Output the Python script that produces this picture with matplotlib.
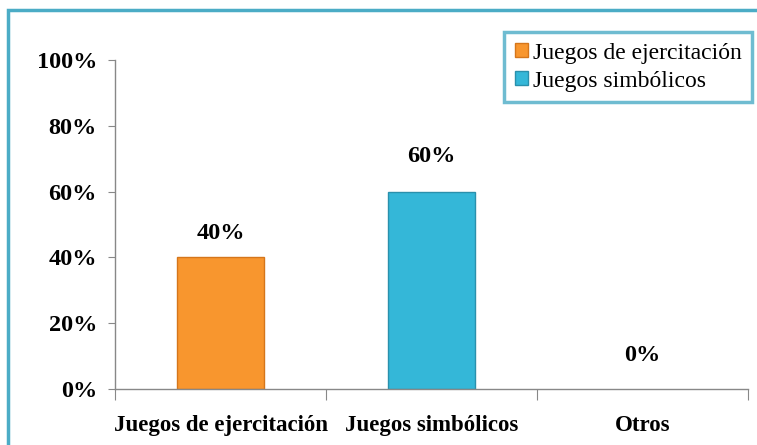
import matplotlib.pyplot as plt
from matplotlib.patches import Rectangle

# datos
categories = ["Juegos de ejercitación", "Juegos simbólicos", "Otros"]
values = [40, 60, 0]
legend_labels = ["Juegos de ejercitación", "Juegos simbólicos"]
y_ticks = [0, 20, 40, 60, 80, 100]

ORANGE = "#F8962E"
TEAL = "#34B7D8"
FRAME = "#4BACC6"

plt.rcParams["font.family"] = ["Liberation Serif", "DejaVu Serif"]

fig = plt.figure(figsize=(7.57, 4.45), dpi=100)
fig.patch.set_facecolor("white")

# marco exterior
fig.patches.append(
    Rectangle((8 / 757, -0.05), 1.1, 1 - 10 / 445 + 0.05,
              transform=fig.transFigure, fill=False,
              edgecolor=FRAME, linewidth=2.5)
)

ax = fig.add_axes([115 / 757, 1 - 389 / 445, (748 - 115) / 757, (389 - 60) / 445])

x = range(len(categories))
colors = [ORANGE, TEAL, TEAL]
edges = ["#D5761B", "#2A90AC", "none"]
widths = [1 if v > 0 else 0 for v in values]
bars = ax.bar(x, values, width=0.41, color=colors, edgecolor=edges, linewidth=widths)

offsets = [4.0, 7.5, 7.0]
for i, v in enumerate(values):
    ax.text(i, v + offsets[i], f"{v}%", ha="center", va="bottom",
            fontsize=17.5, fontweight="bold")

ax.set_xlim(-0.5, 2.5)
ax.set_ylim(0, 100)
ax.set_yticks(y_ticks)
ax.set_yticklabels([f"{t}%" for t in y_ticks], fontsize=17.5, fontweight="bold")
ax.set_xticks([-0.5, 0.5, 1.5, 2.5])
ax.set_xticklabels([])
ax.set_xticks(list(x), minor=True)
ax.set_xticklabels(categories, minor=True, fontsize=16.5, fontweight="bold")
ax.tick_params(axis="x", which="minor", length=0, pad=19)
ax.tick_params(axis="x", which="major", length=8, color="#888888")
ax.tick_params(axis="y", length=5, color="#888888", pad=8)

for s in ["top", "right"]:
    ax.spines[s].set_visible(False)
for s in ["left", "bottom"]:
    ax.spines[s].set_color("#888888")
    ax.spines[s].set_linewidth(1)

leg = ax.legend(bars[:2], legend_labels, loc="upper right",
                bbox_to_anchor=(752 / 757, 1 - 32 / 445), bbox_transform=fig.transFigure,
                frameon=True, fancybox=False, fontsize=17,
                handlelength=0.55, handleheight=0.55, handletextpad=0.2,
                borderpad=0.45, labelspacing=0.3, borderaxespad=0)
leg.get_frame().set_edgecolor(FRAME)
leg.get_frame().set_linewidth(2.5)

fig.savefig("out.png", dpi=100)
